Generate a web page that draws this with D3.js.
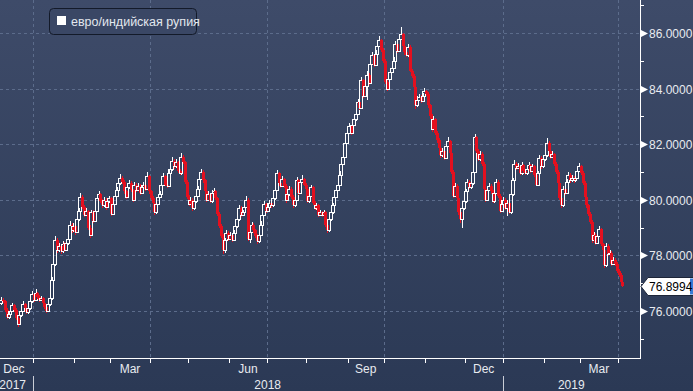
<!DOCTYPE html>
<html><head><meta charset="utf-8">
<script src="https://cdn.jsdelivr.net/npm/d3@7"></script>
<style>
html,body{margin:0;padding:0;background:#2c3a57;overflow:hidden}
svg{display:block}
text{font-family:"Liberation Sans",Arial,sans-serif}
</style>
</head><body>
<svg id="c" width="693" height="391"></svg>
<script>
const seriesName = "евро/индийская рупия";
const firstDate = "2017-12-06";
const lastLabel = "76.8994";
const yTickValues = [76, 78, 80, 82, 84, 86];
const yMinorValues = [75, 77, 79, 81, 83, 85, 87];
const monthLabels = {11: "Dec", 2: "Mar", 5: "Jun", 8: "Sep"};
// daily [open, high, low, close]
const ohlc = [
[76.28,76.52,76.20,76.40],[76.40,76.48,76.28,76.35],[76.35,76.40,75.98,76.05],[76.05,76.12,75.70,75.80],[75.80,75.98,75.72,75.90],
[75.90,76.10,75.85,76.00],[76.00,76.30,75.95,76.20],[76.20,76.25,75.98,76.05],[76.05,76.10,75.68,75.75],[75.75,75.82,75.42,75.55],
[75.55,75.92,75.50,75.85],[75.85,76.08,75.80,76.00],[76.00,76.35,75.95,76.25],[76.25,76.30,76.02,76.10],[76.10,76.15,75.88,75.95],
[75.95,76.18,75.90,76.10],[76.10,76.42,76.05,76.35],[76.35,76.72,76.30,76.60],[76.60,76.66,76.32,76.40],[76.40,76.78,76.35,76.65],
[76.65,76.70,76.42,76.50],[76.50,76.58,76.32,76.40],[76.40,76.55,76.35,76.45],[76.45,76.50,76.22,76.30],[76.30,76.36,76.08,76.15],
[76.15,76.20,75.92,76.00],[76.00,76.32,75.96,76.25],[76.25,76.55,76.18,76.45],[76.45,77.22,76.40,77.10],[77.10,77.85,77.02,77.70],
[77.70,78.68,77.62,78.55],[78.55,78.62,78.10,78.20],[78.20,78.45,78.12,78.35],[78.35,78.42,78.05,78.15],[78.15,78.52,78.08,78.40],
[78.40,78.48,78.12,78.20],[78.20,78.55,78.15,78.45],[78.45,78.72,78.38,78.60],[78.60,79.22,78.55,79.10],[79.10,79.18,78.82,78.90],
[78.90,79.15,78.85,79.05],[79.05,79.12,78.75,78.85],[78.85,79.40,78.80,79.30],[79.30,79.72,79.25,79.60],[79.60,80.25,79.55,80.10],
[80.10,80.18,79.68,79.75],[79.75,79.82,79.38,79.45],[79.45,79.70,79.40,79.60],[79.60,79.65,78.92,79.00],[79.00,79.08,78.62,78.75],
[78.75,79.65,78.70,79.55],[79.55,79.62,79.15,79.25],[79.25,79.72,79.20,79.60],[79.60,80.18,79.55,80.05],[80.05,80.32,80.00,80.20],
[80.20,80.26,79.88,79.95],[79.95,80.02,79.70,79.80],[79.80,80.10,79.75,80.00],[80.00,80.05,79.65,79.75],[79.75,80.05,79.70,79.95],
[79.95,80.15,79.90,80.05],[80.05,80.10,79.42,79.50],[79.50,79.95,79.45,79.85],[79.85,80.25,79.80,80.15],[80.15,80.45,80.10,80.35],
[80.35,80.70,80.30,80.60],[80.60,80.92,80.55,80.80],[80.80,80.85,80.58,80.65],[80.65,80.70,80.22,80.30],[80.30,80.36,80.02,80.10],
[80.10,80.55,80.05,80.45],[80.45,80.72,80.40,80.60],[80.60,80.66,80.28,80.35],[80.35,80.40,79.92,80.00],[80.00,80.65,79.95,80.55],
[80.55,80.60,80.28,80.35],[80.35,80.60,80.30,80.50],[80.50,80.56,80.18,80.25],[80.25,80.55,80.20,80.45],[80.45,80.65,80.40,80.55],
[80.55,80.60,80.32,80.40],[80.40,81.00,80.35,80.85],[80.85,80.90,80.22,80.30],[80.30,80.36,79.98,80.05],[80.05,80.12,79.82,79.90],
[79.90,79.96,79.45,79.55],[79.55,79.95,79.50,79.85],[79.85,80.20,79.80,80.10],[80.10,80.30,80.05,80.20],[80.20,80.65,80.15,80.55],
[80.55,80.98,80.50,80.85],[80.85,80.90,80.48,80.55],[80.55,80.62,80.42,80.50],[80.50,81.08,80.45,80.95],[80.95,81.22,80.90,81.10],
[81.10,81.55,81.05,81.40],[81.40,81.45,81.12,81.20],[81.20,81.45,81.15,81.35],[81.35,81.40,80.98,81.05],[81.05,81.12,80.88,80.95],
[80.95,81.68,80.90,81.55],[81.55,81.60,81.28,81.35],[81.35,81.40,80.58,80.65],[80.65,80.70,80.02,80.10],[80.10,80.16,79.78,79.85],
[79.85,80.10,79.80,80.00],[80.00,80.05,79.60,79.70],[79.70,80.05,79.65,79.95],[79.95,80.25,79.90,80.15],[80.15,80.50,80.10,80.40],
[80.40,80.88,80.35,80.75],[80.75,81.12,80.70,81.00],[81.00,81.06,80.62,80.70],[80.70,80.76,80.22,80.30],[80.30,80.36,79.92,80.00],
[80.00,80.30,79.95,80.20],[80.20,80.26,79.88,79.95],[79.95,80.35,79.90,80.25],[80.25,80.42,80.20,80.30],[80.30,80.36,79.98,80.05],
[80.05,80.10,79.42,79.50],[79.50,79.56,78.98,79.05],[79.05,79.12,78.62,78.70],[78.70,78.78,78.05,78.20],[78.20,78.62,78.10,78.55],
[78.55,78.92,78.50,78.80],[78.80,78.86,78.52,78.60],[78.60,78.85,78.55,78.75],[78.75,78.80,78.48,78.55],[78.55,78.90,78.50,78.80],
[78.80,79.15,78.75,79.05],[79.05,79.40,79.00,79.30],[79.30,79.80,79.25,79.70],[79.70,79.76,79.38,79.45],[79.45,79.65,79.40,79.55],
[79.55,79.85,79.50,79.75],[79.75,80.12,79.70,80.00],[80.00,80.08,78.52,78.60],[78.60,78.95,78.45,78.85],[78.85,79.20,78.80,79.10],
[79.10,79.16,78.82,78.90],[78.90,78.96,78.62,78.70],[78.70,78.76,78.40,78.50],[78.50,78.85,78.45,78.75],[78.75,79.22,78.70,79.10],
[79.10,79.55,79.05,79.45],[79.45,79.95,79.40,79.85],[79.85,79.90,79.52,79.60],[79.60,79.85,79.55,79.75],[79.75,80.00,79.70,79.90],
[79.90,79.95,79.72,79.80],[79.80,80.15,79.75,80.05],[80.05,80.45,80.00,80.35],[80.35,81.08,80.30,80.95],[80.95,81.00,80.52,80.60],
[80.60,80.66,80.42,80.50],[80.50,80.85,80.45,80.75],[80.75,80.80,80.42,80.50],[80.50,80.56,79.90,80.00],[80.00,80.30,79.95,80.20],
[80.20,80.50,80.15,80.40],[80.40,80.46,80.02,80.10],[80.10,80.16,79.70,79.80],[79.80,80.10,79.75,80.00],[80.00,80.82,79.95,80.70],
[80.70,80.76,80.18,80.25],[80.25,80.75,80.20,80.65],[80.65,80.88,80.60,80.75],[80.75,80.80,80.48,80.55],[80.55,80.60,80.32,80.40],
[80.40,80.45,79.88,79.95],[79.95,80.25,79.90,80.15],[80.15,80.55,80.10,80.45],[80.45,80.50,79.82,79.90],[79.90,79.96,79.62,79.70],
[79.70,79.90,79.65,79.80],[79.80,79.85,79.38,79.45],[79.45,79.65,79.40,79.55],[79.55,79.60,79.38,79.45],[79.45,79.65,79.40,79.55],
[79.55,79.60,79.02,79.10],[79.10,79.16,78.82,78.90],[78.90,79.40,78.85,79.30],[79.30,79.65,79.25,79.55],[79.55,79.90,79.50,79.80],
[79.80,80.20,79.75,80.10],[80.10,80.45,80.05,80.35],[80.35,80.65,80.30,80.55],[80.55,81.02,80.50,80.90],[80.90,81.42,80.85,81.30],
[81.30,81.65,81.25,81.55],[81.55,82.15,81.50,82.05],[82.05,82.52,82.00,82.40],[82.40,82.78,82.35,82.65],[82.65,82.70,82.32,82.40],
[82.40,82.82,82.35,82.70],[82.70,83.02,82.65,82.90],[82.90,83.22,82.85,83.10],[83.10,83.62,83.05,83.50],[83.50,83.56,83.22,83.30],
[83.30,84.42,83.25,84.30],[84.30,84.36,83.65,83.75],[83.75,84.22,83.70,84.10],[84.10,84.65,83.60,84.50],[84.50,84.56,84.12,84.20],
[84.20,85.02,84.15,84.90],[84.90,85.32,84.85,85.20],[85.20,85.26,84.78,84.85],[84.85,85.38,84.80,85.25],[85.25,85.68,85.20,85.55],
[85.55,85.88,85.50,85.75],[85.75,85.80,85.32,85.40],[85.40,85.46,84.92,85.00],[85.00,85.06,84.15,84.25],[84.25,84.32,83.90,84.00],
[84.00,84.45,83.95,84.35],[84.35,84.72,84.30,84.60],[84.60,84.85,84.55,84.75],[84.75,85.12,84.70,85.00],[85.00,85.72,84.95,85.60],
[85.60,85.66,85.28,85.35],[85.35,85.95,85.30,85.80],[85.80,86.20,85.75,85.95],[85.95,86.00,85.48,85.55],[85.55,85.62,85.22,85.30],
[85.30,85.36,85.12,85.20],[85.20,85.62,85.15,85.50],[85.50,85.56,84.58,84.65],[84.65,84.72,84.38,84.45],[84.45,84.52,83.98,84.05],
[84.05,84.12,83.25,83.40],[83.40,83.72,83.35,83.60],[83.60,83.82,83.55,83.70],[83.70,83.76,83.48,83.55],[83.55,83.85,83.50,83.75],
[83.75,84.02,83.70,83.90],[83.90,83.96,83.72,83.80],[83.80,83.86,83.32,83.40],[83.40,83.46,82.92,83.00],[83.00,83.08,82.45,82.55],
[82.55,83.02,82.50,82.90],[82.90,82.96,82.32,82.40],[82.40,82.46,82.05,82.15],[82.15,82.22,81.78,81.85],[81.85,81.92,81.52,81.60],
[81.60,81.85,81.55,81.75],[81.75,81.80,81.42,81.50],[81.50,82.05,81.45,81.95],[81.95,82.25,81.90,82.10],[82.10,82.16,81.62,81.70],
[81.70,81.76,80.92,81.00],[81.00,81.06,80.08,80.15],[80.15,80.62,80.10,80.50],[80.50,80.56,79.98,80.05],[80.05,80.12,79.45,79.55],
[79.55,79.62,79.15,79.30],[79.30,79.80,79.00,79.70],[79.70,80.05,79.65,79.95],[79.95,80.40,79.90,80.30],[80.30,80.75,80.25,80.65],
[80.65,80.72,80.38,80.45],[80.45,80.70,80.40,80.60],[80.60,81.10,80.55,81.00],[81.00,82.35,80.95,82.25],[82.25,82.30,81.68,81.75],
[81.75,81.82,81.38,81.45],[81.45,81.75,81.40,81.65],[81.65,81.72,81.22,81.30],[81.30,81.36,80.32,80.40],[80.40,80.46,79.92,80.00],
[80.00,80.45,79.95,80.35],[80.35,80.62,80.30,80.50],[80.50,80.56,80.22,80.30],[80.30,80.36,79.88,79.95],[79.95,80.35,79.90,80.25],
[80.25,80.75,80.20,80.65],[80.65,80.72,80.08,80.15],[80.15,80.22,79.52,79.60],[79.60,79.95,79.55,79.85],[79.85,80.10,79.80,80.00],
[80.00,80.06,79.62,79.70],[79.70,80.00,79.40,79.90],[79.90,79.96,79.48,79.55],[79.55,80.30,79.50,80.20],[80.20,80.80,80.15,80.70],
[80.70,81.42,80.65,81.30],[81.30,81.36,81.08,81.15],[81.15,81.32,81.10,81.20],[81.20,81.26,80.88,80.95],[80.95,81.35,80.90,81.25],
[81.25,81.30,80.98,81.05],[81.05,81.12,80.88,80.95],[80.95,81.20,80.90,81.10],[81.10,81.35,81.05,81.25],[81.25,81.30,80.98,81.05],
[81.05,81.30,81.00,81.20],[81.20,81.26,80.82,80.90],[80.90,80.96,80.48,80.55],[80.55,81.05,80.50,80.95],[80.95,81.62,80.90,81.50],
[81.50,81.56,81.12,81.20],[81.20,81.55,81.15,81.45],[81.45,81.72,81.40,81.60],[81.60,82.22,81.55,82.05],[82.05,82.10,81.68,81.75],
[81.75,81.80,81.48,81.55],[81.55,81.75,81.50,81.65],[81.65,81.70,81.22,81.30],[81.30,81.36,80.92,81.00],[81.00,81.06,80.52,80.60],
[80.60,80.66,79.98,80.05],[80.05,80.12,79.72,79.80],[79.80,80.50,79.75,80.40],[80.40,80.46,80.18,80.25],[80.25,80.75,80.20,80.65],
[80.65,81.00,80.60,80.90],[80.90,80.96,80.62,80.70],[80.70,80.90,80.65,80.80],[80.80,80.86,80.62,80.70],[80.70,80.90,80.65,80.80],
[80.80,81.15,80.75,81.05],[81.05,81.32,81.00,81.20],[81.20,81.26,80.88,80.95],[80.95,81.02,80.52,80.60],[80.60,80.66,80.02,80.10],
[80.10,80.16,79.72,79.80],[79.80,79.86,79.42,79.50],[79.50,79.56,79.12,79.20],[79.20,79.26,78.45,78.55],[78.55,78.85,78.50,78.75],
[78.75,78.80,78.38,78.45],[78.45,78.80,78.40,78.70],[78.70,79.05,78.65,78.95],[78.95,79.00,78.32,78.40],[78.40,78.46,78.12,78.20],
[78.20,78.26,77.55,77.65],[77.65,78.45,77.60,78.35],[78.35,78.40,77.98,78.05],[78.05,78.20,78.00,78.10],[78.10,78.16,77.62,77.70],
[77.70,77.95,77.65,77.85],[77.85,77.90,77.62,77.70],[77.70,77.76,77.38,77.45],[77.45,77.52,77.22,77.30],[77.30,77.36,76.98,77.05],
[77.05,77.12,76.85,76.8994]
];

const W = 693, H = 391;
const plotRight = 640, plotBottom = 358;
const svg = d3.select("#c");
const defs = svg.append("defs");
const grad = defs.append("linearGradient").attr("id", "bg").attr("x1", 0).attr("y1", 0).attr("x2", 0).attr("y2", 1);
grad.append("stop").attr("offset", "0%").attr("stop-color", "#3e4b69");
grad.append("stop").attr("offset", "100%").attr("stop-color", "#2b3955");
defs.append("clipPath").attr("id", "clip").append("rect").attr("x", 0).attr("y", 0).attr("width", plotRight).attr("height", plotBottom);
svg.append("rect").attr("width", W).attr("height", H).attr("fill", "url(#bg)");

// trading-day calendar
const parse = d3.utcParse("%Y-%m-%d");
const cal = d3.utcDays(parse("2017-12-01"), parse("2019-06-01")).filter(d => d.getUTCDay() % 6 !== 0);
const startK = cal.findIndex(d => +d === +parse(firstDate));
const n = ohlc.length;

const x = d3.scaleLinear().domain([startK, startK + n - 1]).range([1.3, 622.3]);
const y = d3.scaleLinear().domain([74.309, 87.187]).range([plotBottom, 0]);

// month boundaries
const bounds = [];
for (let k = 1; k < cal.length; k++) {
  if (cal[k].getUTCMonth() !== cal[k - 1].getUTCMonth()) bounds.push({k, date: cal[k], px: x(k - 0.5)});
}
const firstBound = {k: 0, date: cal[0], px: x(-0.5)};
const allBounds = [firstBound, ...bounds];

// grid
const grid = svg.append("g").attr("stroke", "#5c6c8b").attr("stroke-dasharray", "3,3").attr("stroke-width", 1);
yTickValues.forEach(v => {
  const yy = Math.round(y(v)) + 0.5;
  grid.append("line").attr("x1", 0).attr("x2", plotRight).attr("y1", yy).attr("y2", yy);
});
bounds.filter(b => b.date.getUTCMonth() % 3 === 0 && b.px < plotRight).forEach(b => {
  const xx = Math.round(b.px) + 0.5;
  grid.append("line").attr("x1", xx).attr("x2", xx).attr("y1", 0).attr("y2", plotBottom);
});

// candles
const cg = svg.append("g").attr("clip-path", "url(#clip)");
const red = "#e3101f";
ohlc.forEach((r, i) => {
  const [o, h, l, c] = r;
  const up = c >= o;
  const cx = Math.round(x(startK + i));
  const yt = Math.round(y(Math.max(o, c))), yb = Math.round(y(Math.min(o, c)));
  const yh = Math.round(y(h)), yl = Math.round(y(l));
  if (up) {
    cg.append("line").attr("x1", cx + 0.5).attr("x2", cx + 0.5).attr("y1", yh).attr("y2", yt).attr("stroke", "#fff");
    cg.append("line").attr("x1", cx + 0.5).attr("x2", cx + 0.5).attr("y1", yb).attr("y2", yl).attr("stroke", "#fff");
    cg.append("rect").attr("x", cx - 1.5).attr("y", yt + 0.5).attr("width", 3).attr("height", Math.max(1, yb - yt))
      .attr("fill", "none").attr("stroke", "#fff").attr("stroke-width", 1);
  } else {
    cg.append("line").attr("x1", cx + 0.5).attr("x2", cx + 0.5).attr("y1", yh).attr("y2", yl).attr("stroke", red);
    cg.append("rect").attr("x", cx - 1).attr("y", yt).attr("width", 3).attr("height", Math.max(1, yb - yt)).attr("fill", red);
  }
});

// axes lines
const ax = svg.append("g").attr("stroke", "#ffffff").attr("stroke-width", 1);
ax.append("line").attr("x1", plotRight + 0.5).attr("x2", plotRight + 0.5).attr("y1", 0).attr("y2", plotBottom + 1);
ax.append("line").attr("x1", 0).attr("x2", plotRight + 1).attr("y1", plotBottom + 0.5).attr("y2", plotBottom + 0.5);

// y ticks
yMinorValues.forEach(v => {
  const yy = Math.round(y(v)) + 0.5;
  if (yy > 0 && yy < plotBottom) ax.append("line").attr("x1", plotRight).attr("x2", plotRight + 4).attr("y1", yy).attr("y2", yy);
});
yTickValues.forEach(v => {
  const yy = Math.round(y(v)) + 0.5;
  svg.append("path").attr("d", `M${plotRight + 1},${yy - 3.5}L${plotRight + 8},${yy}L${plotRight + 1},${yy + 3.5}Z`).attr("fill", "#fff");
  svg.append("text").attr("x", 649).attr("y", yy).attr("dy", "0.36em").attr("fill", "#e8ebf0")
    .attr("font-size", 12).text(d3.format(".4f")(v));
});

// x ticks
bounds.filter(b => b.px < plotRight).forEach(b => {
  const xx = Math.round(b.px) + 0.5;
  ax.append("line").attr("x1", xx).attr("x2", xx).attr("y1", plotBottom).attr("y2", plotBottom + 5);
});
// month labels
for (let j = 0; j < allBounds.length - 1; j++) {
  const m = allBounds[j].date.getUTCMonth();
  if (monthLabels[m] !== undefined) {
    const cxm = (allBounds[j].px + allBounds[j + 1].px) / 2;
    if (cxm < plotRight) svg.append("text").attr("x", cxm).attr("y", 373).attr("text-anchor", "middle")
      .attr("fill", "#e8ebf0").attr("font-size", 12).text(monthLabels[m]);
  }
}
// years
const jans = bounds.filter(b => b.date.getUTCMonth() === 0 && b.px < plotRight);
jans.forEach(b => {
  const xx = Math.round(b.px) + 0.5;
  svg.append("line").attr("x1", xx).attr("x2", xx).attr("y1", 376).attr("y2", H).attr("stroke", "#c9cdd6");
});
svg.append("text").attr("x", Math.round(jans[0].px) - 7).attr("y", 389).attr("text-anchor", "end")
  .attr("fill", "#e8ebf0").attr("font-size", 12).text(jans[0].date.getUTCFullYear() - 1);
for (let j = 0; j < jans.length; j++) {
  const a = jans[j].px, b = j + 1 < jans.length ? jans[j + 1].px : plotRight;
  svg.append("text").attr("x", (a + b) / 2).attr("y", 389).attr("text-anchor", "middle")
    .attr("fill", "#e8ebf0").attr("font-size", 12).text(jans[j].date.getUTCFullYear());
}

// last price label
const lastY = Math.round(y(ohlc[n - 1][3])) + 0.5;
svg.append("path").attr("d", `M641,${lastY}L648,${lastY - 9}L694,${lastY - 9}L694,${lastY + 9}L648,${lastY + 9}Z`)
  .attr("fill", "#ffffff").attr("stroke", "#1d2538").attr("stroke-width", 1);
svg.append("rect").attr("x", 690).attr("y", lastY - 8).attr("width", 3).attr("height", 16).attr("fill", "#3a7bd5");
svg.append("text").attr("x", 649).attr("y", lastY).attr("dy", "0.36em").attr("fill", "#000").attr("font-size", 12).text(lastLabel);

// legend
const lg = svg.append("g");
lg.append("rect").attr("x", 49.5).attr("y", 8.5).attr("width", 147).attr("height", 26).attr("rx", 4)
  .attr("fill", "#3a4765").attr("stroke", "#131a29");
lg.append("rect").attr("x", 57).attr("y", 16).attr("width", 9).attr("height", 9).attr("fill", "#ffffff");
lg.append("text").attr("x", 71).attr("y", 26).attr("fill", "#e3e7ee").attr("font-size", 12.5).text(seriesName);
</script>
</body></html>
